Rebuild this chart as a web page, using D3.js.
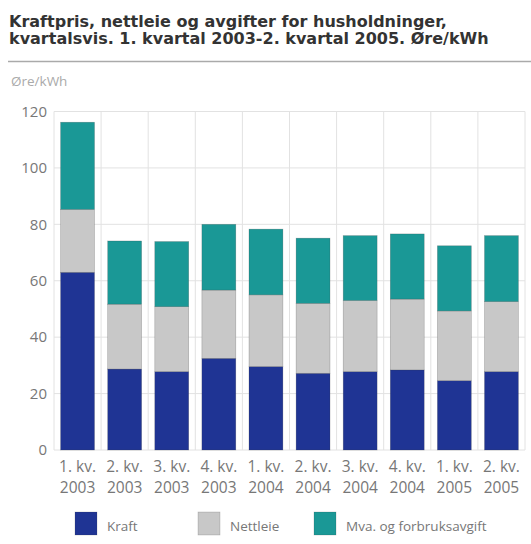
<!DOCTYPE html>
<html><head><meta charset="utf-8">
<script src="https://cdn.jsdelivr.net/npm/d3@7"></script>
<style>body{margin:0;background:#fff;}svg{display:block;}</style>
</head><body>
<script>
const categories = ["1. kv. 2003","2. kv. 2003","3. kv. 2003","4. kv. 2003","1. kv. 2004","2. kv. 2004","3. kv. 2004","4. kv. 2004","1. kv. 2005","2. kv. 2005"];
const kraft    = [63.0, 28.7, 27.8, 32.5, 29.6, 27.2, 27.8, 28.4, 24.6, 27.8];
const nettleie = [22.3, 23.0, 23.0, 24.2, 25.4, 24.8, 25.2, 25.1, 24.7, 24.8];
const mva      = [30.9, 22.4, 23.1, 23.3, 23.3, 23.1, 23.0, 23.1, 23.1, 23.4];
const seriesNames = ["Kraft","Nettleie","Mva. og forbruksavgift"];
const yTicks = [0,20,40,60,80,100,120];
const colors = ["#1f3494","#c8c8c8","#1a9896"];

(function(){
const W=531,H=544;
const svg=d3.select("body").append("svg").attr("width",W).attr("height",H);
const font="'Open Sans', 'DejaVu Sans', sans-serif";
const tfont="'DejaVu Sans', sans-serif";

svg.append("text").attr("x",9).attr("y",26.5).attr("font-family",tfont).attr("font-weight","bold").attr("font-size",16).attr("fill","#333").text("Kraftpris, nettleie og avgifter for husholdninger,");
svg.append("text").attr("x",9).attr("y",44).attr("font-family",tfont).attr("font-weight","bold").attr("font-size",16).attr("fill","#333").text("kvartalsvis. 1. kvartal 2003-2. kvartal 2005. Øre/kWh");
svg.append("line").attr("x1",8).attr("x2",W).attr("y1",61.5).attr("y2",61.5).attr("stroke","#aaa").attr("stroke-width",1.5);
svg.append("text").attr("x",11).attr("y",86).attr("font-family",font).attr("font-size",13.5).attr("fill","#aaa").text("Øre/kWh");

const pl=54,pr=525,pt=111.5,pb=450;
const x=d3.scaleBand().domain(categories).range([pl,pr]).paddingInner(0.28).paddingOuter(0.14);
const y=d3.scaleLinear().domain([0,120]).range([pb,pt]);

// grid
const g=svg.append("g");
g.selectAll("line.h").data(yTicks).join("line").attr("x1",pl).attr("x2",pr)
 .attr("y1",d=>y(d)).attr("y2",d=>y(d)).attr("stroke","#e2e2e2").attr("stroke-width",1);
const bounds=categories.map((c,i)=>i===0?pl:x(c)-x.step()*x.paddingInner()/2).concat([pr]);
g.selectAll("line.v").data(bounds).join("line").attr("x1",d=>d).attr("x2",d=>d)
 .attr("y1",pt).attr("y2",pb).attr("stroke","#e2e2e2").attr("stroke-width",1);

// y axis labels
const yAxis=d3.axisLeft(y).tickValues(yTicks).tickSize(0).tickPadding(7);
const ya=svg.append("g").attr("transform",`translate(${pl},0)`).call(yAxis);
ya.select(".domain").remove();
ya.selectAll("text").attr("font-family",font).attr("font-size",15).attr("fill","#777");

// stacks
const rows=categories.map((c,i)=>({cat:c,Kraft:kraft[i],Nettleie:nettleie[i],"Mva. og forbruksavgift":mva[i]}));
const stack=d3.stack().keys(seriesNames)(rows);
svg.append("g").selectAll("g").data(stack).join("g").attr("fill",(d,i)=>colors[i])
 .selectAll("rect").data(d=>d).join("rect")
 .attr("x",d=>x(d.data.cat)).attr("width",x.bandwidth())
 .attr("y",d=>y(d[1])).attr("height",d=>y(d[0])-y(d[1]))
 .attr("stroke","rgba(60,60,60,0.35)").attr("stroke-width",0.6);

// x labels
const xl=svg.append("g");
categories.forEach(c=>{
  const parts=c.split(" ");
  const cx=x(c)+x.bandwidth()/2;
  const t=xl.append("text").attr("x",cx).attr("text-anchor","middle").attr("font-family",font).attr("font-size",15.5).attr("fill","#777");
  t.append("tspan").attr("x",cx).attr("y",472).text(parts[0]+" "+parts[1]);
  t.append("tspan").attr("x",cx).attr("y",493).text(parts[2]);
});

// legend
const legX=[75,198,314];
const lg=svg.append("g");
seriesNames.forEach((s,i)=>{
  lg.append("rect").attr("x",legX[i]).attr("y",512).attr("width",22).attr("height",23).attr("fill",colors[i]).attr("stroke","rgba(60,60,60,0.3)").attr("stroke-width",0.6);
  lg.append("text").attr("x",legX[i]+32).attr("y",531).attr("font-family",font).attr("font-size",13.5).attr("fill","#777").text(s);
});
})();
</script>
</body></html>
